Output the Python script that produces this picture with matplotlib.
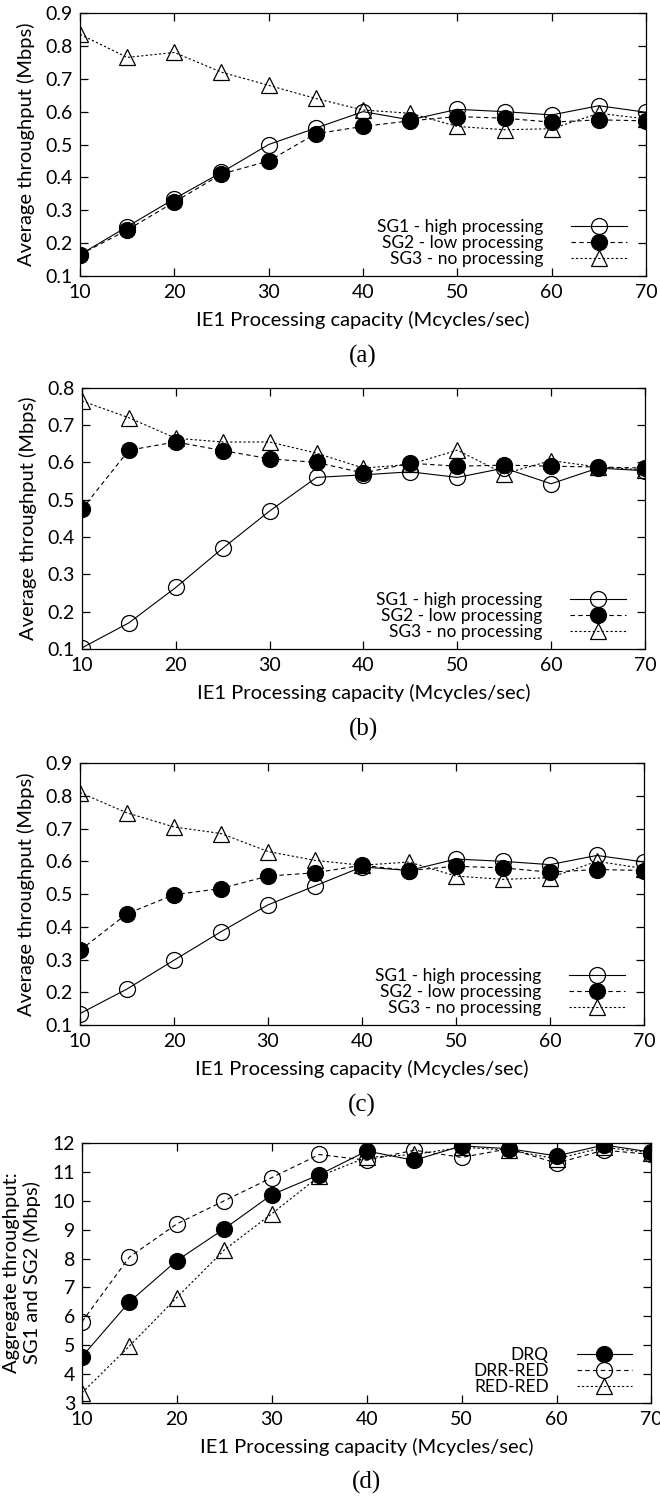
import matplotlib
matplotlib.use("Agg")
import matplotlib.pyplot as plt
from matplotlib.ticker import MultipleLocator, FormatStrFormatter

plt.rcParams['font.family'] = ['Lato', 'DejaVu Sans']
plt.rcParams['font.size'] = 14

# x values shared by all four panels
capacity = [10, 15, 20, 25, 30, 35, 40, 45, 50, 55, 60, 65, 70]

# panel (a)
a_sg1 = [0.165, 0.250, 0.335, 0.415, 0.500, 0.550, 0.600, 0.575, 0.607, 0.600, 0.590, 0.618, 0.598]
a_sg2 = [0.165, 0.240, 0.325, 0.410, 0.450, 0.533, 0.555, 0.572, 0.585, 0.580, 0.568, 0.575, 0.572]
a_sg3 = [0.835, 0.765, 0.780, 0.720, 0.680, 0.640, 0.605, 0.595, 0.555, 0.545, 0.548, 0.595, 0.578]

# panel (b)
b_sg1 = [0.103, 0.170, 0.265, 0.370, 0.470, 0.560, 0.567, 0.575, 0.560, 0.585, 0.543, 0.585, 0.578]
b_sg2 = [0.475, 0.633, 0.655, 0.632, 0.610, 0.600, 0.572, 0.598, 0.590, 0.593, 0.590, 0.588, 0.585]
b_sg3 = [0.765, 0.720, 0.665, 0.655, 0.655, 0.625, 0.585, 0.595, 0.633, 0.570, 0.605, 0.588, 0.580]

# panel (c)
c_sg1 = [0.135, 0.210, 0.298, 0.385, 0.467, 0.525, 0.583, 0.572, 0.607, 0.600, 0.590, 0.618, 0.598]
c_sg2 = [0.328, 0.440, 0.498, 0.517, 0.555, 0.565, 0.588, 0.572, 0.585, 0.580, 0.567, 0.575, 0.572]
c_sg3 = [0.810, 0.748, 0.705, 0.685, 0.630, 0.603, 0.588, 0.598, 0.555, 0.545, 0.550, 0.600, 0.578]

# panel (d)
d_drq = [4.60, 6.50, 7.93, 9.03, 10.21, 10.90, 11.72, 11.40, 11.90, 11.80, 11.55, 11.93, 11.68]
d_drr = [5.81, 8.05, 9.20, 10.00, 10.80, 11.60, 11.40, 11.75, 11.50, 11.80, 11.30, 11.75, 11.60]
d_red = [3.35, 4.97, 6.65, 8.30, 9.55, 10.85, 11.50, 11.60, 11.85, 11.75, 11.45, 11.85, 11.65]

sg_labels = ['SG1 - high processing', 'SG2 - low processing', 'SG3 - no processing']
d_labels = ['DRQ', 'DRR-RED', 'RED-RED']

LW = 0.8
MS = 11.5
solid = dict(color='black', lw=LW, ls='-')
dashed = dict(color='black', lw=LW, dashes=(4, 3))
dotted = dict(color='black', lw=LW, dashes=(2, 2))
open_circ = dict(marker='o', ms=MS, mfc='none', mec='black', mew=0.9)
full_circ = dict(marker='o', ms=MS, mfc='black', mec='black', mew=0.9)
open_tri = dict(marker='^', ms=MS, mfc='none', mec='black', mew=0.9)


def style(ax, ylim, step, fmt, ylabel, caption):
    ax.set_xlim(10, 70)
    ax.set_ylim(*ylim)
    ax.xaxis.set_major_locator(MultipleLocator(10))
    ax.yaxis.set_major_locator(MultipleLocator(step))
    ax.yaxis.set_major_formatter(FormatStrFormatter(fmt))
    ax.tick_params(direction='in', length=6, width=0.9, top=True, right=True,
                   labelsize=14)
    ax.tick_params(axis='y', pad=5)
    ax.tick_params(axis='x', pad=6)
    for s in ax.spines.values():
        s.set_linewidth(0.9)
    ax.set_xlabel('IE1 Processing capacity (Mcycles/sec)', fontsize=14.5, labelpad=7)
    ax.set_ylabel(ylabel, fontsize=14.5, labelpad=8)
    # caption below the panel, like "(a)"
    h = ax.get_position().height * 1496
    ax.text(0.5, -80 / h, caption, transform=ax.transAxes, ha='center', va='center',
            family='Liberation Serif', fontsize=18)


def legend(ax, y0):
    leg = ax.legend(loc='lower right', bbox_to_anchor=(0.966, y0), frameon=False,
                    markerfirst=False, fontsize=12.5, handlelength=3.2,
                    handletextpad=1.6, labelspacing=0.0, borderpad=0,
                    borderaxespad=0)
    return leg


fig = plt.figure(figsize=(6.6, 14.96), dpi=100)

panels = [
    ([0.1212, 0.8155, 0.8576, 0.1758], a_sg1, a_sg2, a_sg3, (0.1, 0.9), '(a)'),
    ([0.1242, 0.5662, 0.8530, 0.1745], b_sg1, b_sg2, b_sg3, (0.1, 0.8), '(b)'),
    ([0.1212, 0.3148, 0.8545, 0.1751], c_sg1, c_sg2, c_sg3, (0.1, 0.9), '(c)'),
]
for pos, s1, s2, s3, ylim, cap in panels:
    ax = fig.add_axes(pos)
    ax.plot(capacity, s1, label=sg_labels[0], **solid, **open_circ)
    ax.plot(capacity, s2, label=sg_labels[1], **dashed, **full_circ)
    ax.plot(capacity, s3, label=sg_labels[2], **dotted, **open_tri)
    style(ax, ylim, 0.1, '%.1f', 'Average throughput (Mbps)', cap)
    legend(ax, 0.035)

ax = fig.add_axes([0.1242, 0.0622, 0.8629, 0.1738])
ax.plot(capacity, d_drq, label=d_labels[0], **solid, **full_circ)
ax.plot(capacity, d_drr, label=d_labels[1], **dashed, **open_circ)
ax.plot(capacity, d_red, label=d_labels[2], **dotted, **open_tri)
style(ax, (3, 12), 1, '%d', 'Aggregate throughput:\nSG1 and SG2 (Mbps)', '(d)')
legend(ax, 0.03)

fig.savefig('out.png', dpi=100)
